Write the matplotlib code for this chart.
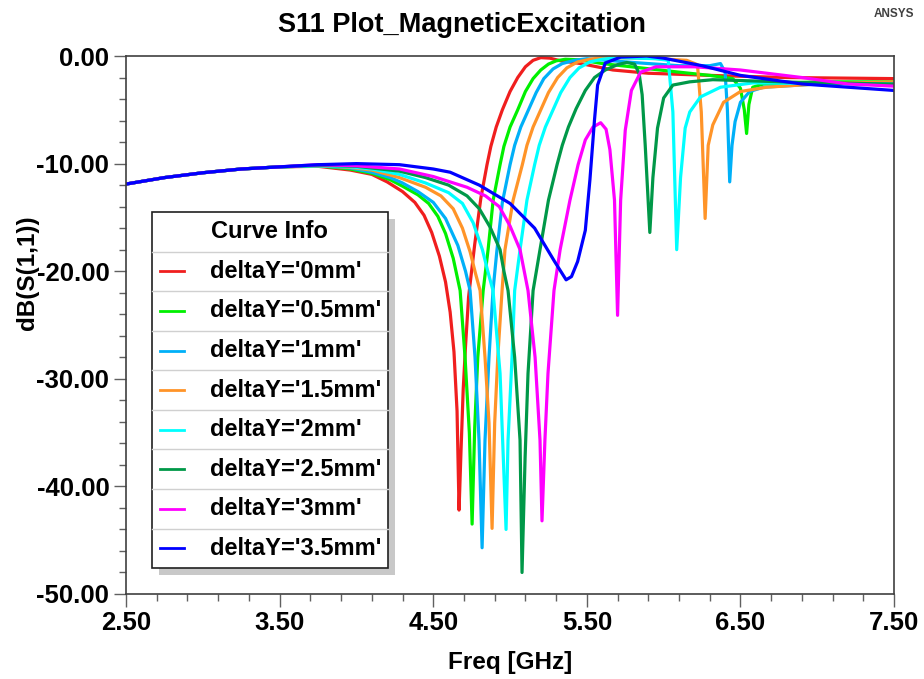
import numpy as np
import matplotlib.pyplot as plt
from matplotlib.patches import Rectangle
from matplotlib.lines import Line2D
from matplotlib.ticker import FixedLocator, FormatStrFormatter

plt.rcParams['font.family'] = ['Liberation Sans', 'DejaVu Sans']
plt.rcParams['font.weight'] = 'bold'

# curve names and colours (HFSS default palette)
labels = ["deltaY='0mm'", "deltaY='0.5mm'", "deltaY='1mm'", "deltaY='1.5mm'",
          "deltaY='2mm'", "deltaY='2.5mm'", "deltaY='3mm'", "deltaY='3.5mm'"]
colors = ['#f01e1e', '#00f000', '#00b0f8', '#ff9428', '#00ffff', '#009848', '#ff00ff', '#0000ff']

# values: freq in GHz, S11 in dB
f_0 = [2.5, 2.75, 3.0, 3.25, 3.5, 3.75, 3.96, 4.1, 4.2, 4.3, 4.38, 4.44, 4.49, 4.54, 4.58,
       4.61, 4.635, 4.655, 4.668, 4.68, 4.695, 4.71, 4.73, 4.77, 4.81, 4.85, 4.875, 4.91,
       4.95, 5.0, 5.05, 5.1, 5.15, 5.2, 5.26, 5.33, 5.46, 5.67, 5.9, 6.3, 6.8, 7.5]
s_0 = [-11.9, -11.3, -10.85, -10.5, -10.3, -10.25, -10.6, -11.0, -11.7, -12.6, -13.6, -14.8,
       -16.4, -18.6, -21.0, -23.8, -27.5, -33.0, -42.2, -37.0, -31.0, -27.0, -22.4, -17.5,
       -13.2, -10.1, -8.4, -6.6, -5.0, -3.3, -2.0, -1.0, -0.4, -0.15, -0.2, -0.45, -0.7,
       -1.3, -1.6, -1.8, -2.0, -2.1]

f_05 = [2.5, 2.75, 3.0, 3.25, 3.5, 3.75, 3.96, 4.1, 4.22, 4.3, 4.4, 4.47, 4.53, 4.58, 4.63,
        4.675, 4.707, 4.735, 4.753, 4.77, 4.79, 4.825, 4.857, 4.89, 4.935, 4.96, 5.0, 5.05,
        5.1, 5.15, 5.2, 5.25, 5.3, 5.36, 5.45, 5.6, 5.85, 6.1, 6.3, 6.45, 6.5, 6.525, 6.54,
        6.555, 6.58, 6.65, 7.0, 7.5]
s_05 = [-11.9, -11.3, -10.85, -10.5, -10.3, -10.2, -10.5, -10.9, -11.5, -12.1, -12.9, -13.7,
        -14.9, -16.5, -18.8, -21.8, -28.0, -35.0, -43.5, -34.5, -28.0, -21.8, -18.0, -13.4,
        -10.1, -8.4, -6.6, -5.0, -3.3, -2.1, -1.3, -0.75, -0.45, -0.3, -0.35, -0.7, -1.1,
        -1.5, -1.8, -2.1, -3.0, -5.0, -7.2, -4.5, -2.9, -2.6, -2.4, -2.4]

f_1 = [2.5, 2.75, 3.0, 3.25, 3.5, 3.75, 3.96, 4.1, 4.22, 4.3, 4.4, 4.5, 4.58, 4.66, 4.71,
       4.74, 4.772, 4.798, 4.818, 4.837, 4.863, 4.889, 4.915, 4.95, 5.0, 5.03, 5.07, 5.12,
       5.17, 5.22, 5.28, 5.34, 5.42, 5.5, 5.8, 6.1, 6.3, 6.37, 6.4, 6.415, 6.43, 6.445,
       6.465, 6.5, 6.56, 6.65, 7.0, 7.5]
s_1 = [-11.9, -11.3, -10.85, -10.5, -10.3, -10.2, -10.4, -10.8, -11.3, -11.8, -12.6, -13.6,
       -15.1, -17.6, -20.0, -21.8, -28.0, -35.7, -45.7, -35.7, -28.0, -21.8, -18.0, -13.6,
       -10.1, -8.3, -6.6, -5.0, -3.4, -2.1, -1.2, -0.7, -0.4, -0.25, -0.6, -0.9, -0.9,
       -0.7, -1.5, -5.0, -11.7, -8.3, -6.1, -4.3, -3.3, -2.9, -2.6, -2.5]

f_15 = [2.5, 2.75, 3.0, 3.25, 3.5, 3.75, 3.96, 4.1, 4.28, 4.45, 4.55, 4.63, 4.69, 4.74,
        4.775, 4.805, 4.837, 4.863, 4.883, 4.9, 4.92, 4.948, 4.967, 5.02, 5.08, 5.11, 5.15,
        5.2, 5.25, 5.31, 5.37, 5.44, 5.52, 5.6, 5.9, 6.15, 6.22, 6.245, 6.27, 6.29, 6.32,
        6.39, 6.5, 6.67, 7.0, 7.5]
s_15 = [-11.9, -11.3, -10.85, -10.5, -10.3, -10.2, -10.35, -10.6, -11.3, -12.2, -13.0,
        -14.2, -16.0, -18.2, -20.2, -21.8, -28.0, -34.1, -43.9, -34.1, -28.0, -21.8, -18.0,
        -13.4, -10.1, -8.3, -6.6, -5.0, -3.4, -2.0, -1.1, -0.55, -0.3, -0.15, -0.2, -0.4,
        -0.8, -5.2, -15.1, -8.3, -6.4, -4.3, -3.3, -2.9, -2.6, -2.4]

f_2 = [2.5, 2.75, 3.0, 3.25, 3.5, 3.75, 3.96, 4.1, 4.28, 4.45, 4.6, 4.69, 4.76, 4.82, 4.855,
       4.889, 4.935, 4.974, 4.987, 5.013, 5.03, 5.065, 5.11, 5.16, 5.19, 5.23, 5.28, 5.33,
       5.39, 5.45, 5.52, 5.6, 5.7, 5.95, 6.03, 6.06, 6.085, 6.11, 6.14, 6.17, 6.24, 6.37,
       6.58, 7.0, 7.5]
s_2 = [-11.9, -11.3, -10.85, -10.5, -10.3, -10.2, -10.3, -10.5, -11.0, -11.8, -12.7, -13.7,
       -15.5, -18.0, -20.0, -21.8, -29.5, -44.0, -35.7, -28.0, -21.8, -18.0, -13.4, -10.1,
       -8.3, -6.6, -5.0, -3.4, -2.0, -1.1, -0.55, -0.3, -0.15, -0.25, -0.4, -5.2, -18.0,
       -11.3, -6.7, -5.2, -3.8, -2.9, -2.5, -2.55, -2.6]

f_25 = [2.5, 2.75, 3.0, 3.25, 3.5, 3.75, 4.0, 4.28, 4.45, 4.6, 4.72, 4.8, 4.87, 4.935,
        4.96, 4.987, 5.03, 5.065, 5.078, 5.098, 5.117, 5.15, 5.195, 5.25, 5.306, 5.34, 5.38,
        5.43, 5.49, 5.55, 5.62, 5.7, 5.76, 5.81, 5.84, 5.86, 5.88, 5.91, 5.93, 5.96, 6.0,
        6.06, 6.17, 6.32, 7.0, 7.5]
s_25 = [-11.9, -11.3, -10.85, -10.5, -10.3, -10.15, -10.25, -10.7, -11.3, -12.0, -13.0,
        -14.2, -15.9, -18.0, -20.0, -21.8, -28.0, -35.7, -48.0, -37.3, -29.5, -21.8, -18.0,
        -13.4, -10.1, -8.3, -6.6, -4.9, -3.2, -2.0, -1.3, -0.8, -0.6, -0.75, -1.6, -3.6,
        -8.3, -16.4, -11.3, -6.7, -3.9, -2.7, -2.4, -2.2, -2.5, -2.6]

f_3 = [2.5, 2.75, 3.0, 3.25, 3.5, 3.75, 4.0, 4.28, 4.5, 4.72, 4.84, 4.93, 5.0, 5.065, 5.117,
       5.163, 5.195, 5.208, 5.227, 5.247, 5.286, 5.326, 5.39, 5.443, 5.49, 5.54, 5.59, 5.625,
       5.65, 5.68, 5.7, 5.72, 5.75, 5.79, 5.85, 5.95, 6.2, 6.5, 6.9, 7.2, 7.5]
s_3 = [-11.9, -11.3, -10.85, -10.5, -10.3, -10.1, -10.2, -10.5, -11.2, -12.2, -13.0, -14.0,
       -15.8, -18.0, -21.8, -28.0, -35.7, -43.2, -35.7, -29.5, -21.8, -18.0, -13.4, -10.1,
       -7.8, -6.6, -6.2, -6.8, -8.7, -13.4, -24.1, -13.4, -6.9, -3.2, -1.5, -1.0, -1.0,
       -1.3, -2.0, -2.6, -2.8]

f_35 = [2.5, 2.75, 3.0, 3.25, 3.5, 3.75, 4.0, 4.28, 4.5, 4.61, 4.8, 5.0, 5.16, 5.29, 5.365,
        5.4, 5.44, 5.49, 5.52, 5.55, 5.57, 5.62, 5.72, 5.89, 6.0, 6.25, 6.5, 6.9, 7.2, 7.5]
s_35 = [-11.9, -11.3, -10.85, -10.5, -10.3, -10.1, -10.0, -10.1, -10.5, -10.8, -12.0, -13.7,
        -16.0, -19.1, -20.8, -20.5, -19.1, -16.2, -11.5, -5.9, -2.7, -0.65, -0.1, 0.0, -0.2,
        -0.9, -1.8, -2.6, -2.9, -3.2]

freqs = [f_0, f_05, f_1, f_15, f_2, f_25, f_3, f_35]
s11 = [s_0, s_05, s_1, s_15, s_2, s_25, s_3, s_35]

x_ticks = [2.5, 3.5, 4.5, 5.5, 6.5, 7.5]
y_ticks = [-50, -40, -30, -20, -10, 0]

fig = plt.figure(figsize=(9.24, 6.79), dpi=100)
ax = fig.add_axes([0.1364, 0.1252, 0.8312, 0.7923])

for f, s, c in zip(freqs, s11, colors):
    ax.plot(f, s, color=c, lw=2.3, solid_joinstyle='round', solid_capstyle='round')

ax.set_xlim(2.5, 7.5)
ax.set_ylim(-50, 0)
ax.set_xticks(x_ticks)
ax.set_yticks(y_ticks)
ax.xaxis.set_minor_locator(FixedLocator(np.arange(2.5, 7.5, 0.2)))
ax.yaxis.set_minor_locator(FixedLocator(np.arange(-50, 0, 2)))
ax.xaxis.set_major_formatter(FormatStrFormatter('%.2f'))
ax.yaxis.set_major_formatter(FormatStrFormatter('%.2f'))
ax.tick_params(which='major', direction='out', length=9, width=1, color='#606060',
               labelsize=18.5, pad=3)
ax.tick_params(which='minor', direction='out', length=5, width=1, color='#606060')
for sp in ax.spines.values():
    sp.set_color('#404040')
    sp.set_linewidth(1.2)

fig.text(0.5, 0.963, 'S11 Plot_MagneticExcitation', ha='center', va='center',
         fontsize=19.5, fontweight='bold')
fig.text(0.967, 0.979, 'ANSYS', ha='center', va='center', fontsize=8.5,
         fontweight='bold', color='#404040')
fig.text(0.552, 0.025, 'Freq [GHz]', ha='center', va='center', fontsize=17.5,
         fontweight='bold')
fig.text(0.030, 0.599, 'dB(S(1,1))', ha='center', va='center', rotation=90,
         fontsize=17.5, fontweight='bold')

# "Curve Info" table drawn inside the axes
x0, x1 = 0.034, 0.341
y_top, y_bot = 0.710, 0.048
row_h = (y_top - y_bot) / 9
ax.add_patch(Rectangle((x0 + 0.009, y_bot - 0.013), x1 - x0, y_top - y_bot,
                       transform=ax.transAxes, facecolor='#c8c8c8', edgecolor='none',
                       zorder=5))
ax.add_patch(Rectangle((x0, y_bot), x1 - x0, y_top - y_bot, transform=ax.transAxes,
                       facecolor='white', edgecolor='#202020', lw=1.2, zorder=6))
ax.text(0.111, y_top - row_h / 2, 'Curve Info', transform=ax.transAxes, ha='left',
        va='center', fontsize=17, fontweight='bold', zorder=8)
for i, (lab, c) in enumerate(zip(labels, colors)):
    yc = y_top - row_h * (i + 1.5)
    ax.add_line(Line2D([x0, x1], [y_top - row_h * (i + 1)] * 2, transform=ax.transAxes,
                       color='#d0d0d0', lw=1, zorder=7))
    ax.add_line(Line2D([0.044, 0.076], [yc, yc], transform=ax.transAxes, color=c,
                       lw=2, zorder=8))
    ax.text(0.109, yc, lab, transform=ax.transAxes, ha='left', va='center',
            fontsize=17, fontweight='bold', zorder=8)

fig.savefig('out.png', dpi=100)
